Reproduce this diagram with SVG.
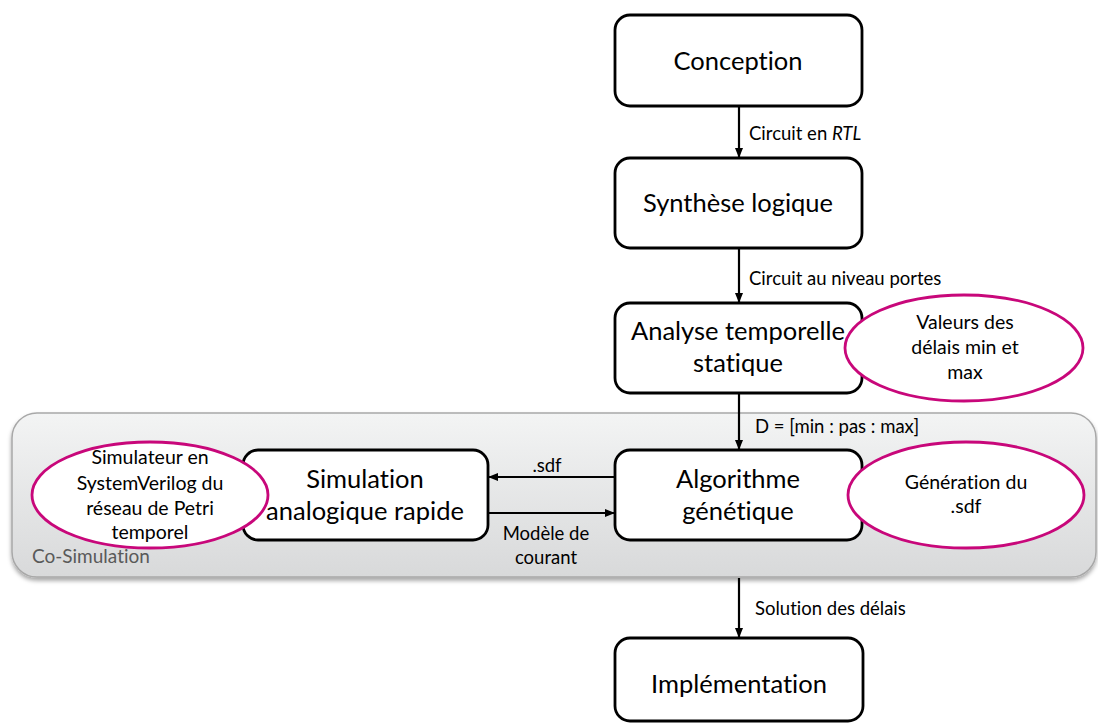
<svg xmlns="http://www.w3.org/2000/svg" width="1098" height="724" viewBox="0 0 1098 724">
<style>
text{font-variant-ligatures:none}
.box{fill:#fff;stroke:#000;stroke-width:2.8}
.ell{fill:#fff;stroke:#c8077a;stroke-width:2.8}
.big{font-family:Lato,"Liberation Sans",sans-serif;font-size:25.5px;fill:#000;text-anchor:middle}
.sm{font-family:Lato,"Liberation Sans",sans-serif;font-size:19.5px;fill:#000;text-anchor:middle}
.lbl{font-family:Lato,"Liberation Sans",sans-serif;font-size:18.5px;fill:#000}
.con{stroke:#000;stroke-width:2.2;fill:none;marker-end:url(#ah)}
</style>
<defs>
<marker id="ah" markerUnits="userSpaceOnUse" markerWidth="10" markerHeight="10" refX="10" refY="5" orient="auto">
<path d="M0,1 L10,5 L0,9 z" fill="#000"/>
</marker>
<linearGradient id="cg" x1="0" y1="0" x2="0" y2="1">
<stop offset="0" stop-color="#f3f4f4"/>
<stop offset="1" stop-color="#d8d9da"/>
</linearGradient>
<filter id="sh" x="-5%" y="-10%" width="110%" height="130%">
<feDropShadow dx="0" dy="3" stdDeviation="2" flood-color="#000" flood-opacity="0.35"/>
</filter>
</defs>
<rect width="1098" height="724" fill="#fff"/>
<g id="cosim">
<rect x="12" y="413" width="1084" height="164" rx="25" fill="url(#cg)" stroke="#a8a8a8" stroke-width="1.5" filter="url(#sh)"/>
<text x="32" y="563" font-family="Lato,'Liberation Sans',sans-serif" font-size="19" fill="#595959">Co-Simulation</text>
</g>
<g id="connectors">
<line class="con" x1="739" y1="106" x2="739" y2="158"/>
<line class="con" x1="739" y1="248" x2="739" y2="303"/>
<line class="con" x1="739" y1="393" x2="739" y2="450"/>
<line class="con" x1="739" y1="578" x2="739" y2="638"/>
<line class="con" x1="615" y1="477" x2="488" y2="477"/>
<line class="con" x1="488" y1="513" x2="615" y2="513"/>
<text class="lbl" x="749" y="140">Circuit en <tspan font-style="italic">RTL</tspan></text>
<text class="lbl" x="749" y="285">Circuit au niveau portes</text>
<text class="lbl" x="755" y="433">D = [min : pas : max]</text>
<text class="lbl" x="755" y="615">Solution des délais</text>
<text class="lbl" x="547" y="472" text-anchor="middle">.sdf</text>
<text class="lbl" x="546" y="540" text-anchor="middle">Modèle de</text>
<text class="lbl" x="546" y="564" text-anchor="middle">courant</text>
</g>
<g id="conception">
<rect class="box" x="615" y="15" width="247" height="91" rx="15"/>
<text class="big" x="738" y="70">Conception</text>
</g>
<g id="synthese">
<rect class="box" x="615" y="158" width="247" height="90" rx="15"/>
<text class="big" x="738" y="212">Synthèse logique</text>
</g>
<g id="analyse">
<rect class="box" x="615" y="303" width="247" height="90" rx="15"/>
<text class="big" x="738" y="340">Analyse temporelle</text>
<text class="big" x="738" y="372">statique</text>
</g>
<g id="valeurs">
<ellipse class="ell" cx="964" cy="348" rx="119" ry="53"/>
<text class="sm" x="965" y="329">Valeurs des</text>
<text class="sm" x="965" y="354">délais min et</text>
<text class="sm" x="965" y="379">max</text>
</g>
<g id="algorithme">
<rect class="box" x="615" y="450" width="247" height="90" rx="15"/>
<text class="big" x="738" y="488">Algorithme</text>
<text class="big" x="738" y="520">génétique</text>
</g>
<g id="generation">
<ellipse class="ell" cx="966" cy="495" rx="118" ry="53"/>
<text class="sm" x="966" y="489">Génération du</text>
<text class="sm" x="966" y="513">.sdf</text>
</g>
<g id="simulation">
<rect class="box" x="243" y="450" width="245" height="90" rx="15"/>
<text class="big" x="365" y="488">Simulation</text>
<text class="big" x="365" y="520">analogique rapide</text>
</g>
<g id="simulateur">
<ellipse class="ell" cx="150" cy="495" rx="118" ry="53"/>
<text class="sm" x="150" y="464">Simulateur en</text>
<text class="sm" x="150" y="490">SystemVerilog du</text>
<text class="sm" x="150" y="515">réseau de Petri</text>
<text class="sm" x="150" y="539">temporel</text>
</g>
<g id="implementation">
<rect class="box" x="615" y="638" width="248" height="83" rx="15"/>
<text class="big" x="739" y="693">Implémentation</text>
</g>
</svg>
